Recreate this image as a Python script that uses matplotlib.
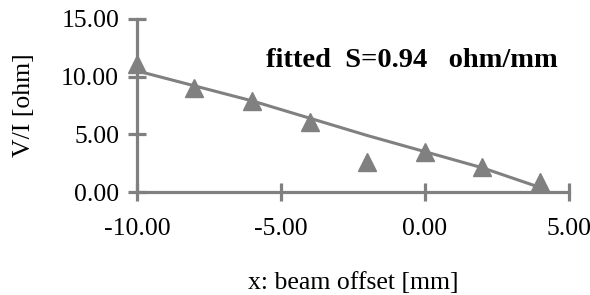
import matplotlib.pyplot as plt

x_offset = [-10, -8, -6, -4, -2, 0, 2, 4]
measured = [11.1, 9.0, 7.9, 6.1, 2.6, 3.5, 2.2, 0.9]
fitted = [10.5, 9.2, 7.9, 6.4, 4.9, 3.5, 2.1, 0.4]
x_ticks = [-10, -5, 0, 5]
y_ticks = [0, 5, 10, 15]

gray = '#808080'
plt.rcParams['font.family'] = ['Liberation Serif', 'DejaVu Serif']

fig = plt.figure(figsize=(5.9, 2.95), dpi=100)
ax = fig.add_axes([0.232, 0.349, 0.732, 0.587])

ax.plot(x_offset, fitted, color=gray, lw=2.2, clip_on=False, zorder=2)
ax.plot(x_offset, measured, ls='none', marker='^', ms=13.5, color=gray,
        clip_on=False, zorder=3)

ax.set_xlim(-10, 5)
ax.set_ylim(0, 15)
ax.set_xticks(x_ticks)
ax.set_yticks(y_ticks)
ax.set_xticklabels([f'{v:.2f}' for v in x_ticks])
ax.set_yticklabels([f'{v:.2f}' for v in y_ticks])

for side in ['top', 'right']:
    ax.spines[side].set_visible(False)
for side in ['left', 'bottom']:
    ax.spines[side].set_color(gray)
    ax.spines[side].set_linewidth(2.3)
ax.tick_params(direction='inout', length=13.5, width=2.3, color=gray,
               labelsize=18.5)
ax.tick_params(axis='x', pad=12)
ax.tick_params(axis='y', pad=6)

ax.set_xlabel('x: beam offset [mm]', fontsize=18.5, labelpad=23)
ax.set_ylabel('V/I [ohm]', fontsize=18.5, labelpad=19)
# annotation placed in pixel coords (origin bottom-left)
ax.text(412, 228, 'fitted  S=0.94   ohm/mm', transform=None,
        ha='center', va='baseline', fontsize=20.5, fontweight='bold')

fig.savefig('out.png', dpi=100)
